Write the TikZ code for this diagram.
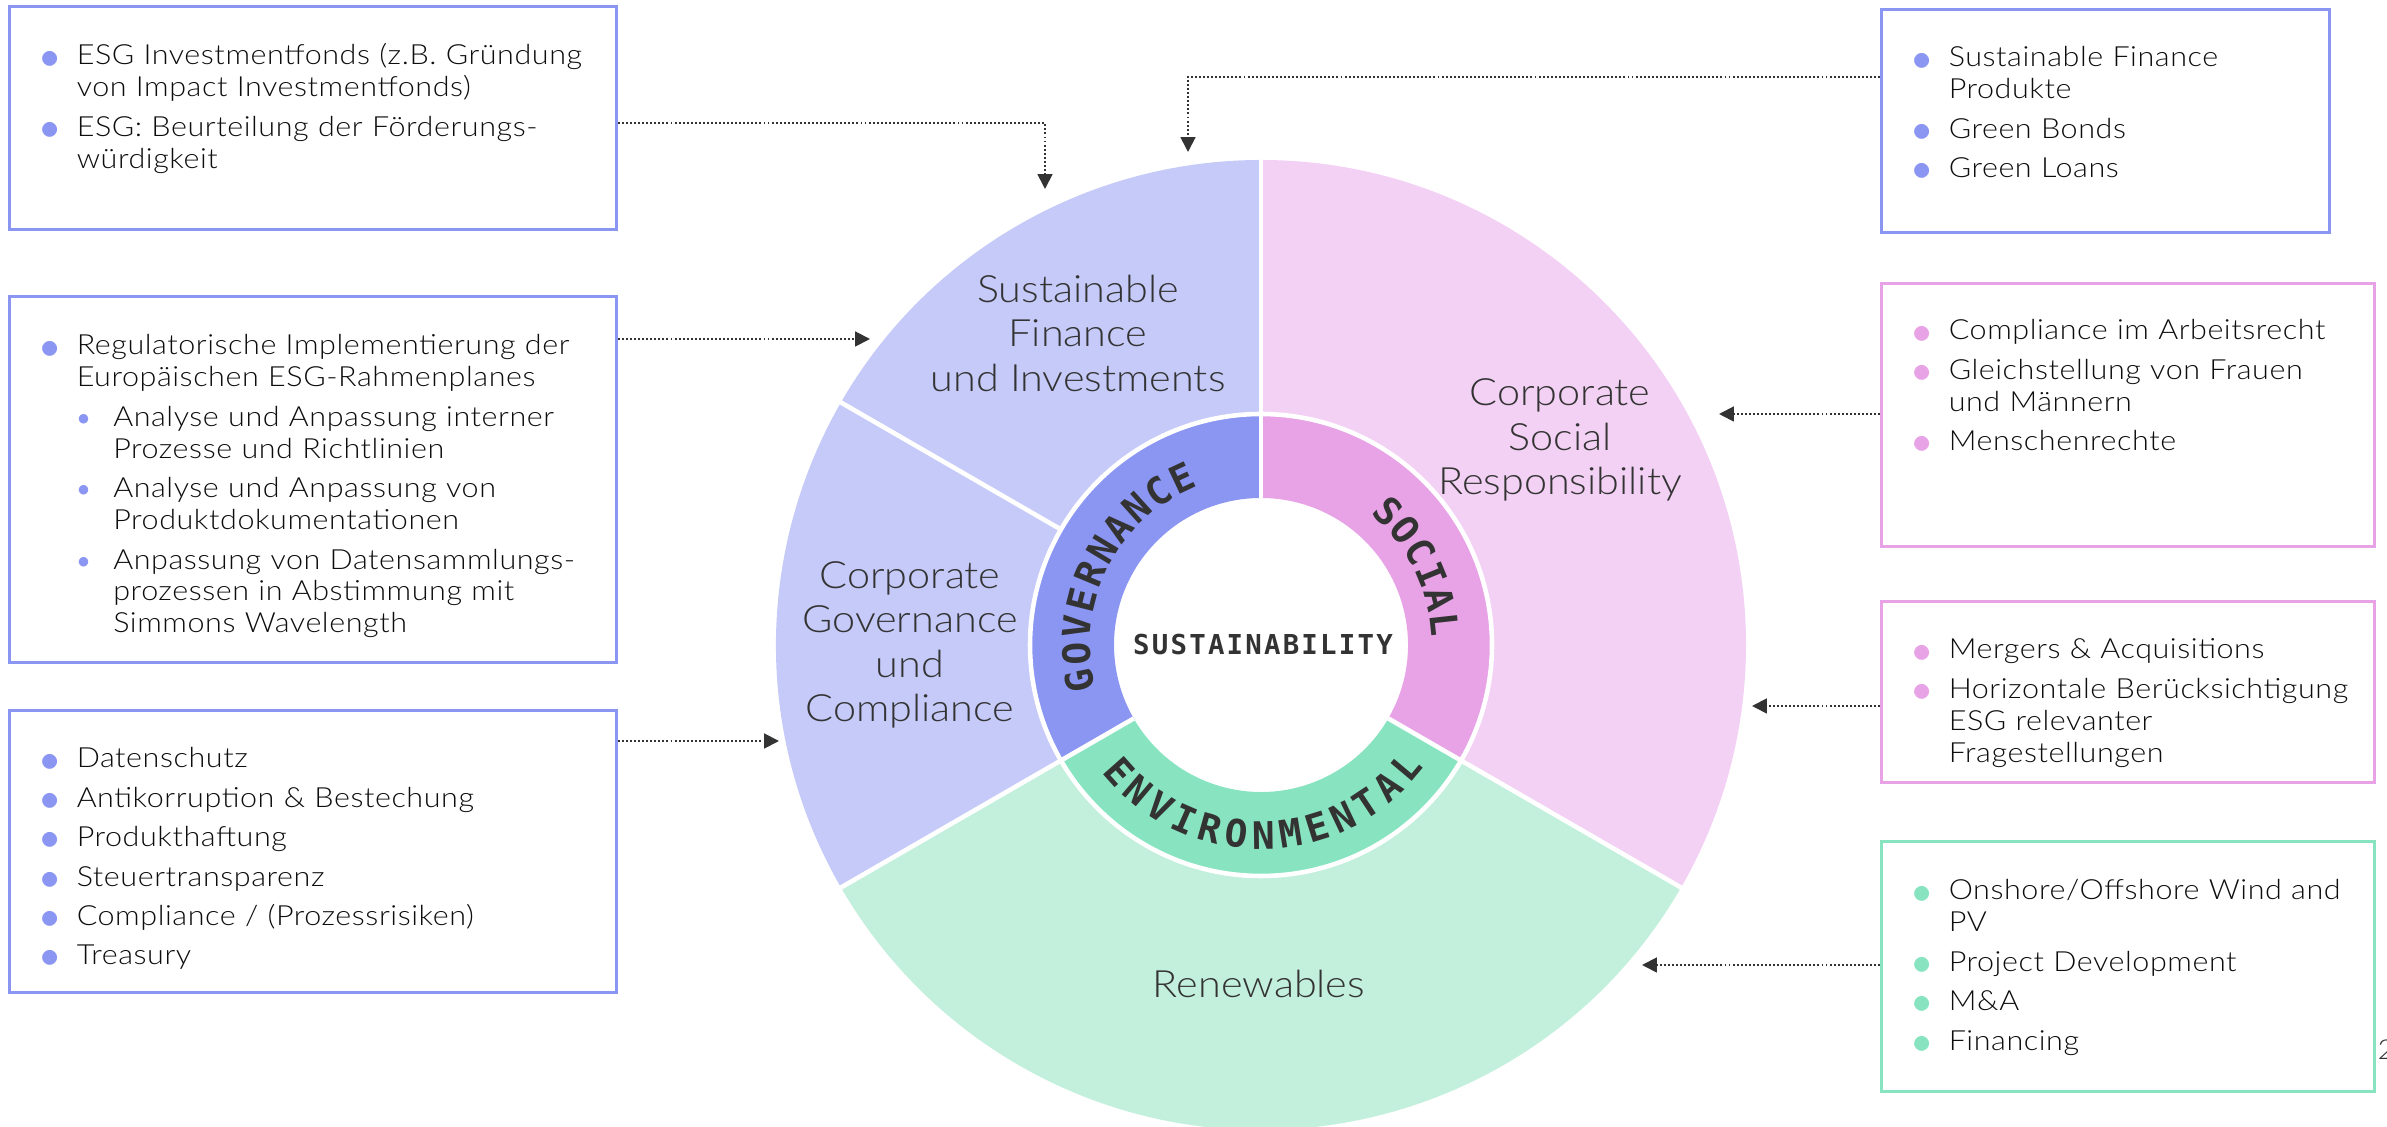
\documentclass[tikz,border=0pt]{standalone}
\usepackage{fontspec}
\IfFontExistsTF{FiraSans-Light.otf}
  {\setmainfont{FiraSans-Light.otf}[FakeStretch=1.06]}
  {\IfFontExistsTF{Lato Light}
    {\setmainfont{Lato Light}[FakeStretch=1.1]}
    {\setmainfont{Fira Sans}[FakeStretch=1.04]}}
\newfontfamily\ringfont{DejaVu Sans Mono}
\usetikzlibrary{arrows.meta,decorations.text}

\definecolor{govdark}{HTML}{8A96F2}
\definecolor{govlight}{HTML}{C5CAF8}
\definecolor{socdark}{HTML}{E8A2E6}
\definecolor{soclight}{HTML}{F3D1F4}
\definecolor{envdark}{HTML}{88E4C0}
\definecolor{envlight}{HTML}{C3F0DC}
\definecolor{ink}{HTML}{333333}

% bullet lists inside the boxes
\newlength{\bulw}
\setlength{\bulw}{10.4pt}
\colorlet{bulcol}{govdark}
\newcommand{\bigdot}{\raisebox{-0.9pt}{\fontsize{10.5pt}{0pt}\selectfont$\bullet$}}
\newcommand{\smalldot}{\raisebox{0.5pt}{\fontsize{5.9pt}{0pt}\selectfont$\bullet$}}
\newcommand{\bitem}[1]{\par\noindent\hangindent=\bulw\hangafter=1%
  \makebox[\bulw][l]{\textcolor{bulcol}{\bigdot}}#1\par\vspace{2.1pt}}
\newcommand{\sitem}[1]{\par\noindent\hangindent=2\bulw\hangafter=1%
  \hspace*{\bulw}\makebox[\bulw][l]{\textcolor{bulcol}{\smalldot}}#1\par\vspace{2.1pt}}
\newcommand{\ringstyle}{\ringfont\bfseries\fontsize{10.8pt}{10.8pt}\selectfont\color{ink}}

\tikzset{
  infobox/.style={draw=#1, line width=0.85pt, inner sep=0pt, anchor=north west},
  itemtext/.style={text=black!95, text width=#1, align=left, anchor=base west, inner sep=0pt,
    font=\addfontfeature{LetterSpace=2}\fontsize{7.9pt}{9.1pt}\selectfont},
  itemtext/.default=5.6cm,
  seglabel/.style={text=ink, align=center, inner sep=0pt,
    font=\fontsize{10.7pt}{12.66pt}\selectfont},
  conn/.style={draw=ink, line width=0.55pt, dash pattern=on 0.55pt off 0.6pt,
    -{Triangle[length=4.2pt,width=4.2pt]}},
  gap/.style={white, line width=1.3pt}
}

\begin{document}
\begin{tikzpicture}
	\useasboundingbox (0,0) rectangle (23.87,-11.27);
	% wheel
	\coordinate (hub) at (12.61,-6.45);
	\begin{scope}[shift={(hub)}]
		\fill[govlight] (90:2.31) arc[start angle=90,end angle=210,radius=2.31] -- (210:4.85) arc[start angle=210,end angle=90,radius=4.85] -- cycle;
		\fill[envlight] (210:2.31) arc[start angle=210,end angle=330,radius=2.31] -- (330:4.85) arc[start angle=330,end angle=210,radius=4.85] -- cycle;
		\fill[soclight] (-30:2.31) arc[start angle=-30,end angle=90,radius=2.31] -- (90:4.85) arc[start angle=90,end angle=-30,radius=4.85] -- cycle;
		\fill[govdark] (90:1.47) arc[start angle=90,end angle=210,radius=1.47] -- (210:2.31) arc[start angle=210,end angle=90,radius=2.31] -- cycle;
		\fill[envdark] (210:1.47) arc[start angle=210,end angle=330,radius=1.47] -- (330:2.31) arc[start angle=330,end angle=210,radius=2.31] -- cycle;
		\fill[socdark] (-30:1.47) arc[start angle=-30,end angle=90,radius=1.47] -- (90:2.31) arc[start angle=90,end angle=-30,radius=2.31] -- cycle;
		\draw[gap] (0,0) circle[radius=2.31];
		\draw[gap] (90:1.47) -- (90:4.9);
		\draw[gap] (210:1.47) -- (210:4.9);
		\draw[gap] (330:1.47) -- (330:4.9);
		\draw[gap] (150:2.31) -- (150:4.9);
		% ring captions
		\path[decorate, decoration={text along path, text align=fit to path, text={|\ringstyle|GOVERNANCE}}]
			(195:1.71) arc[start angle=195,end angle=111.4,radius=1.71];
		\path[decorate, decoration={text along path, text align=fit to path, text={|\ringstyle|SOCIAL}}]
			(50.2:1.71) arc[start angle=50.2,end angle=2.5,radius=1.71];
		\path[decorate, decoration={text along path, text align=fit to path, text={|\ringstyle|ENVIRONMENTAL}}]
			(218.5:2.04) arc[start angle=218.5,end angle=323.2,radius=2.04];
	\end{scope}
	\node[text=ink, font=\ringfont\bfseries\addfontfeature{LetterSpace=8}\fontsize{7.8pt}{7.8pt}\selectfont] (core) at (12.63,-6.45) {SUSTAINABILITY};

	% sector captions
	\node[seglabel] (sfin) at (10.78,-3.33) {Sustainable\\Finance\\und Investments};
	\node[seglabel] (cgov) at (9.10,-6.45) {Corporate\\Governance\\und\\Compliance};
	\node[seglabel] (csr) at (15.60,-4.40) {Corporate\\Social\\Responsibility};
	\node[seglabel] (renew) at (12.59,-9.84) {Renewables};

	% boxes, left side
	\node[infobox=govdark, minimum width=6.07cm, minimum height=2.23cm] (fonds) at (0.08,-0.05) {};
	\node[itemtext] at ([shift={(0.315,-0.28)}]fonds.north west) {\colorlet{bulcol}{govdark}%
		\bitem{ESG Investmentfonds (z.B. Gründung\newline von Impact Investmentfonds)}
		\bitem{ESG: Beurteilung der Förderungs-\newline würdigkeit}};
	\node[infobox=govdark, minimum width=6.07cm, minimum height=3.66cm] (regul) at (0.08,-2.95) {};
	\node[itemtext] at ([shift={(0.315,-0.28)}]regul.north west) {\colorlet{bulcol}{govdark}%
		\bitem{Regulatorische Implementierung der\newline Europäischen ESG-Rahmenplanes}
		\sitem{Analyse und Anpassung interner\newline Prozesse und Richtlinien}
		\sitem{Analyse und Anpassung von\newline Produktdokumentationen}
		\sitem{Anpassung von Datensammlungs-\newline prozessen in Abstimmung mit\newline Simmons Wavelength}};
	\node[infobox=govdark, minimum width=6.07cm, minimum height=2.82cm] (compl) at (0.08,-7.09) {};
	\node[itemtext] at ([shift={(0.315,-0.27)}]compl.north west) {\colorlet{bulcol}{govdark}%
		\bitem{Datenschutz}
		\bitem{Antikorruption \& Bestechung}
		\bitem{Produkthaftung}
		\bitem{Steuertransparenz}
		\bitem{Compliance / (Prozessrisiken)}
		\bitem{Treasury}};

	% boxes, right side
	\node[infobox=govdark, minimum width=4.48cm, minimum height=2.23cm] (sfprod) at (18.80,-0.08) {};
	\node[itemtext=4.4cm] at ([shift={(0.315,-0.27)}]sfprod.north west) {\colorlet{bulcol}{govdark}%
		\bitem{Sustainable Finance\newline Produkte}
		\bitem{Green Bonds}
		\bitem{Green Loans}};
	\node[infobox=socdark, minimum width=4.93cm, minimum height=2.63cm] (labour) at (18.80,-2.82) {};
	\node[itemtext=4.5cm] at ([shift={(0.315,-0.26)}]labour.north west) {\colorlet{bulcol}{socdark}%
		\bitem{Compliance im Arbeitsrecht}
		\bitem{Gleichstellung von Frauen\newline und Männern}
		\bitem{Menschenrechte}};
	\node[infobox=socdark, minimum width=4.93cm, minimum height=1.81cm] (mna) at (18.80,-6.00) {};
	\node[itemtext=4.5cm] at ([shift={(0.315,-0.27)}]mna.north west) {\colorlet{bulcol}{socdark}%
		\bitem{Mergers \& Acquisitions}
		\bitem{Horizontale Berücksichtigung\newline ESG relevanter\newline Fragestellungen}};
	\node[infobox=envdark, minimum width=4.93cm, minimum height=2.50cm] (wind) at (18.80,-8.40) {};
	\node[itemtext=4.5cm] at ([shift={(0.315,-0.28)}]wind.north west) {\colorlet{bulcol}{envdark}%
		\bitem{Onshore/Offshore Wind and\newline PV}
		\bitem{Project Development}
		\bitem{M\&A}
		\bitem{Financing}};
	\node[anchor=base west, text=ink, inner sep=0pt, font=\fontsize{7.8pt}{9.1pt}\selectfont] (pgno) at (23.77,-10.60) {2};

	% arrows into the wheel
	\coordinate (tfonds) at (10.45,-1.89);
	\coordinate (tsfprod) at (11.88,-1.52);
	\coordinate (tregul) at (8.70,-3.39);
	\coordinate (tcompl) at (7.79,-7.41);
	\coordinate (tlabour) at (17.19,-4.14);
	\coordinate (tmna) at (17.52,-7.06);
	\coordinate (twind) at (16.42,-9.65);
	\draw[conn] (fonds.east |- 0,-1.23) -| (tfonds);
	\draw[conn] (sfprod.west |- 0,-0.77) -| (tsfprod);
	\draw[conn] (regul.east |- tregul) -- (tregul);
	\draw[conn] (compl.east |- tcompl) -- (tcompl);
	\draw[conn] (labour.west |- tlabour) -- (tlabour);
	\draw[conn] (mna.west |- tmna) -- (tmna);
	\draw[conn] (wind.west |- twind) -- (twind);
\end{tikzpicture}
\end{document}
